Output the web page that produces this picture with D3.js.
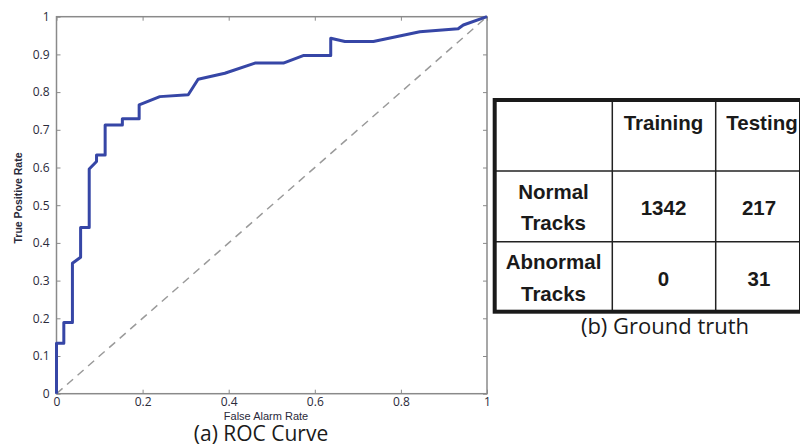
<!DOCTYPE html>
<html lang="en">
<head>
    <meta charset="UTF-8"/>
    <title>ROC Curve and Ground truth</title>
    <script src="https://d3js.org/d3.v7.min.js"></script>
    <style>
        body { margin: 0; background: #fff; }
        svg { display: block; }
    </style>
</head>
<body>
<div id="chart"></div>
<script>
    // ROC curve points
    var fpr = [0, 0, 0.017, 0.017, 0.037, 0.037, 0.056, 0.056, 0.076, 0.076, 0.093, 0.093, 0.113, 0.113,
        0.153, 0.153, 0.192, 0.192, 0.24, 0.306, 0.329, 0.391, 0.461, 0.527, 0.573, 0.637, 0.637,
        0.67, 0.736, 0.844, 0.933, 0.945, 1];
    var tpr = [0, 0.134, 0.134, 0.189, 0.189, 0.346, 0.362, 0.441, 0.441, 0.596, 0.616, 0.633, 0.633, 0.713,
        0.713, 0.729, 0.729, 0.766, 0.788, 0.793, 0.834, 0.85, 0.877, 0.877, 0.897, 0.897, 0.943,
        0.934, 0.934, 0.96, 0.968, 0.978, 1];

    var xTicks = [0, 0.2, 0.4, 0.6, 0.8, 1];
    var xTickLabels = ["0", "0.2", "0.4", "0.6", "0.8", "1"];
    var yTicks = [0, 0.1, 0.2, 0.3, 0.4, 0.5, 0.6, 0.7, 0.8, 0.9, 1];
    var yTickLabels = ["0", "0.1", "0.2", "0.3", "0.4", "0.5", "0.6", "0.7", "0.8", "0.9", "1"];

    // table contents
    var colHeaders = ["", "Training", "Testing"];
    var rowHeaders = [["Normal", "Tracks"], ["Abnormal", "Tracks"]];
    var training = ["1342", "0"];
    var testing = ["217", "31"];

    var width = 800, height = 447;
    var svg = d3.select("#chart").append("svg").attr("width", width).attr("height", height);

    var x = d3.scaleLinear().domain([0, 1]).range([56.5, 487]);
    var y = d3.scaleLinear().domain([0, 1]).range([393.7, 16.7]);

    var tickFont = "'Open Sans', sans-serif";
    var axisColor = "#8a8a8a";

    // frame
    svg.append("rect")
        .attr("x", x(0)).attr("y", y(1))
        .attr("width", x(1) - x(0)).attr("height", y(0) - y(1))
        .attr("fill", "none").attr("stroke", axisColor).attr("stroke-width", 1.5);

    function styleAxis(g) {
        g.select(".domain").remove();
        g.selectAll("line").attr("stroke", axisColor).attr("stroke-width", 1);
        g.selectAll("text").attr("fill", "#2a2a3a").style("font-family", tickFont).style("font-size", "12px");
    }

    svg.append("g").attr("transform", "translate(0," + y(0) + ")")
        .call(d3.axisBottom(x).tickValues(xTicks).tickFormat(function (d, i) { return xTickLabels[i]; })
            .tickSizeInner(-4).tickSizeOuter(0).tickPadding(4))
        .call(styleAxis);
    svg.append("g").attr("transform", "translate(" + x(0) + ",0)")
        .call(d3.axisLeft(y).tickValues(yTicks).tickFormat(function (d, i) { return yTickLabels[i]; })
            .tickSizeInner(-4).tickSizeOuter(0).tickPadding(7))
        .call(styleAxis);
    // top and right ticks
    svg.append("g").attr("transform", "translate(0," + y(1) + ")")
        .call(d3.axisTop(x).tickValues(xTicks).tickFormat("").tickSizeInner(-4).tickSizeOuter(0))
        .call(styleAxis);
    svg.append("g").attr("transform", "translate(" + x(1) + ",0)")
        .call(d3.axisRight(y).tickValues(yTicks).tickFormat("").tickSizeInner(-4).tickSizeOuter(0))
        .call(styleAxis);

    // chance diagonal
    svg.append("line")
        .attr("x1", x(0)).attr("y1", y(0)).attr("x2", x(1)).attr("y2", y(1))
        .attr("stroke", "#9a9a9a").attr("stroke-width", 1.5).attr("stroke-dasharray", "8,6");

    // ROC curve
    var line = d3.line()
        .x(function (d, i) { return x(fpr[i]); })
        .y(function (d, i) { return y(tpr[i]); });
    svg.append("path")
        .datum(fpr)
        .attr("d", line)
        .attr("fill", "none").attr("stroke", "#3646a6").attr("stroke-width", 3)
        .attr("stroke-linejoin", "round");

    // axis titles
    svg.append("text").text("False Alarm Rate")
        .attr("x", 266).attr("y", 419.5).attr("text-anchor", "middle")
        .attr("fill", "#2a2a3a").style("font-family", "'Liberation Sans', Arial, sans-serif")
        .style("font-size", "11px");
    svg.append("text").text("True Positive Rate")
        .attr("transform", "translate(22,198) rotate(-90)").attr("text-anchor", "middle")
        .attr("fill", "#2a2a3a").style("font-family", "'Liberation Sans', Arial, sans-serif")
        .style("font-size", "10.5px").style("font-weight", "bold");

    svg.append("text").text("(a) ROC Curve")
        .attr("x", 261).attr("y", 441).attr("text-anchor", "middle")
        .attr("fill", "#1a1a1a").style("font-family", tickFont).style("font-size", "21px");

    // ---- table ----
    var colX = [494.7, 612.3, 715.7, 801];
    var rowY = [100, 171, 241.7, 311.7];
    var tFont = "'Liberation Sans', Arial, sans-serif";
    var tbl = svg.append("g");

    colX.slice(1, 3).forEach(function (cx) {
        tbl.append("line").attr("x1", cx).attr("x2", cx).attr("y1", rowY[0]).attr("y2", rowY[3])
            .attr("stroke", "#222").attr("stroke-width", 1.5);
    });
    rowY.slice(1, 3).forEach(function (ry) {
        tbl.append("line").attr("x1", colX[0]).attr("x2", colX[3]).attr("y1", ry).attr("y2", ry)
            .attr("stroke", "#222").attr("stroke-width", 1.5);
    });
    tbl.append("rect").attr("x", colX[0]).attr("y", rowY[0])
        .attr("width", colX[3] - colX[0]).attr("height", rowY[3] - rowY[0])
        .attr("fill", "none").attr("stroke", "#1a1a1a").attr("stroke-width", 4);

    function cellText(str, cx, by) {
        tbl.append("text").text(str).attr("x", cx).attr("y", by).attr("text-anchor", "middle")
            .attr("fill", "#1a1a1a").style("font-family", tFont).style("font-size", "20.5px")
            .style("font-weight", "bold");
    }
    var colC = [553.5, 663.5, 759];
    colHeaders.forEach(function (h, i) { if (h) cellText(h, i === 2 ? 762 : colC[i], 129.5); });
    rowHeaders.forEach(function (r, i) {
        var top = rowY[i + 1];
        cellText(r[0], colC[0], top + 27.5);
        cellText(r[1], colC[0], top + 59);
        cellText(training[i], colC[1], top + 44);
        cellText(testing[i], colC[2], top + 44);
    });

    svg.append("text").text("(b) Ground truth")
        .attr("x", 665).attr("y", 333.5).attr("text-anchor", "middle")
        .attr("fill", "#1a1a1a").style("font-family", tickFont).style("font-size", "22px");
</script>
</body>
</html>
